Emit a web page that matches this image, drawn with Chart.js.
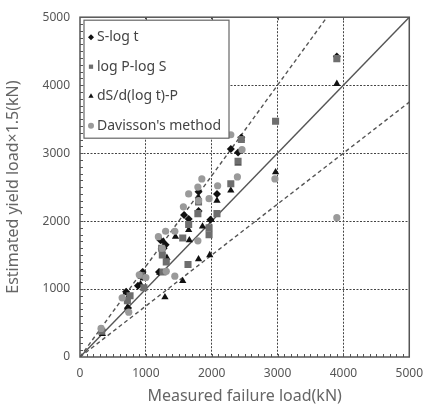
<!DOCTYPE html>
<html lang="en">
<head>
<meta charset="UTF-8">
<title>Estimated yield load vs measured failure load</title>
<script src="https://cdn.jsdelivr.net/npm/chart.js"></script>
<style>
  body { margin: 0; background: #fff; }
  #wrap { width: 432px; height: 410px; }
</style>
</head>
<body>
<div id="wrap"><canvas id="yieldChart" width="432" height="410"></canvas></div>
<script>
// S-log t (diamond)
const sLogT = [
  [330,400],[700,960],[730,720],[880,1050],[950,1250],[950,1180],[1200,1250],[1220,1720],
  [1270,1600],[1300,1650],[1580,2090],[1650,2030],[1800,2430],[1800,2150],[1980,2020],
  [2080,2400],[2290,3060],[2400,3010],[2450,3230],[3900,4420]
];
// log P-log S (square)
const logPlogS = [
  [330,380],[720,830],[760,900],[930,1200],[970,1020],[1240,1600],[1250,1500],[1260,1250],
  [1310,1400],[1560,1750],[1640,1360],[1650,1950],[1790,2110],[1800,2280],[1960,1800],
  [1960,1900],[2080,2110],[2290,2550],[2400,2880],[2450,3200],[2970,3470],[3900,4390]
];
// dS/d(log t)-P (triangle)
const dSdLogT = [
  [340,340],[700,950],[720,730],[740,900],[920,1070],[960,1160],[1210,1240],[1270,1700],
  [1290,880],[1320,1460],[1450,1770],[1560,1120],[1650,1870],[1660,1720],[1800,2350],
  [1800,1440],[1860,1920],[1970,1500],[1990,2020],[2080,2300],[2290,2450],[2400,2850],
  [2450,3210],[2970,2720],[3900,4020]
];
// Davisson's method (circle)
const davisson = [
  [320,420],[640,870],[740,660],[900,1210],[1000,1170],[1190,1770],[1250,1600],[1300,1850],
  [1310,1260],[1440,1850],[1440,1190],[1570,2210],[1650,2400],[1790,1710],[1790,2500],
  [1800,2300],[1850,2620],[1960,2330],[2090,2520],[2290,3270],[2390,2650],[2460,3050],
  [2960,2620],[3900,2050]
];

const axisMax = 5000;
const tickStep = 1000;
// reference lines y = k * x
const refSlopes = [1, 4 / 3, 3 / 4];
const refDashed = [false, true, true];

const toXY = arr => arr.map(p => ({ x: p[0], y: p[1] }));
const refLine = k => {
  const xEnd = Math.min(axisMax, axisMax / k);
  return [{ x: 0, y: 0 }, { x: xEnd, y: k * xEnd }];
};

const series = [
  { label: 'S-log t', data: sLogT, style: 'rectRot', color: '#111', r: 4 },
  { label: 'log P-log S', data: logPlogS, style: 'rect', color: '#6e6e6e', r: 5 },
  { label: 'dS/d(log t)-P', data: dSdLogT, style: 'triangle', color: '#111', r: 4.2 },
  { label: "Davisson's method", data: davisson, style: 'circle', color: '#9a9a9a', r: 3.6 }
];

const datasets = [];
refSlopes.forEach((k, i) => {
  datasets.push({
    type: 'line', data: refLine(k), borderColor: '#555', borderWidth: 1.4,
    borderDash: refDashed[i] ? [4, 3] : [], pointRadius: 0, fill: false, order: 5
  });
});
// draw circles first, so black markers sit on top
[3, 1, 2, 0].forEach(i => {
  const s = series[i];
  datasets.push({
    type: 'scatter', label: s.label, data: toXY(s.data), pointStyle: s.style,
    pointRadius: s.r, backgroundColor: s.color, borderColor: s.color, borderWidth: 0, order: 1
  });
});

const frameAndTicks = {
  id: 'frameAndTicks',
  afterDraw(chart) {
    const { ctx, chartArea: a, scales: { x, y } } = chart;
    ctx.save();
    ctx.strokeStyle = '#555';
    ctx.lineWidth = 1;
    ctx.beginPath();
    for (let v = 100; v < axisMax; v += 100) {
      const px = Math.round(x.getPixelForValue(v)) + 0.5;
      const py = Math.round(y.getPixelForValue(v)) + 0.5;
      ctx.moveTo(px, a.bottom); ctx.lineTo(px, a.bottom - 3);
      ctx.moveTo(a.left, py); ctx.lineTo(a.left + 3, py);
      if (v % tickStep === 0) {
        ctx.moveTo(px, a.top); ctx.lineTo(px, a.top + 3);
      }
    }
    ctx.stroke();
    ctx.lineWidth = 1.5;
    ctx.strokeRect(a.left, a.top, a.right - a.left, a.bottom - a.top);

    // legend box
    const bx = a.left + 4, by = a.top + 3, bw = 145, bh = 118;
    ctx.fillStyle = '#fff';
    ctx.fillRect(bx, by, bw, bh);
    ctx.strokeStyle = '#666';
    ctx.lineWidth = 1.2;
    ctx.strokeRect(bx, by, bw, bh);
    ctx.font = '14px "Noto Sans", "DejaVu Sans", sans-serif';
    ctx.textBaseline = 'middle';
    series.forEach((s, i) => {
      const cy = by + 17 + i * 29.5;
      ctx.fillStyle = s.color;
      Chart.helpers.drawPoint(ctx, { pointStyle: s.style, radius: 3, rotation: 0, borderWidth: 0 }, bx + 7, cy);
      ctx.fillStyle = '#444';
      ctx.fillText(s.label, bx + 13, cy);
    });
    ctx.restore();
  }
};

const gridColor = c => (c.tick && c.tick.value > 0 && c.tick.value < axisMax) ? '#444' : 'rgba(0,0,0,0)';
const plainTick = v => String(v);

new Chart('yieldChart', {
  type: 'scatter',
  data: { datasets },
  options: {
    responsive: false,
    animation: false,
    layout: { padding: { top: 13, right: 16, left: 0, bottom: 0 } },
    plugins: { legend: { display: false }, tooltip: { enabled: false } },
    scales: {
      x: {
        type: 'linear', min: 0, max: axisMax,
        ticks: { stepSize: tickStep, callback: plainTick, color: '#555', font: { size: 12, family: 'Noto Sans' }, padding: 9 },
        grid: { drawTicks: false, lineWidth: 1, color: gridColor },
        border: { display: false, dash: [2, 1.5] },
        title: { display: true, text: 'Measured failure load(kN)', color: '#666', font: { size: 16, family: 'Noto Sans' }, padding: { top: 2 } },
        afterFit: s => { s.height = 53; }
      },
      y: {
        type: 'linear', min: 0, max: axisMax,
        ticks: { stepSize: tickStep, callback: plainTick, color: '#555', font: { size: 12, family: 'Noto Sans' }, padding: 10 },
        grid: { drawTicks: false, lineWidth: 1, color: gridColor },
        border: { display: false, dash: [2, 1.5] },
        title: { display: true, text: 'Estimated yield load×1.5(kN)', color: '#666', font: { size: 16, family: 'Noto Sans' }, padding: { bottom: 4 } },
        afterFit: s => { s.width = 80; }
      }
    }
  },
  plugins: [frameAndTicks]
});
</script>
</body>
</html>
